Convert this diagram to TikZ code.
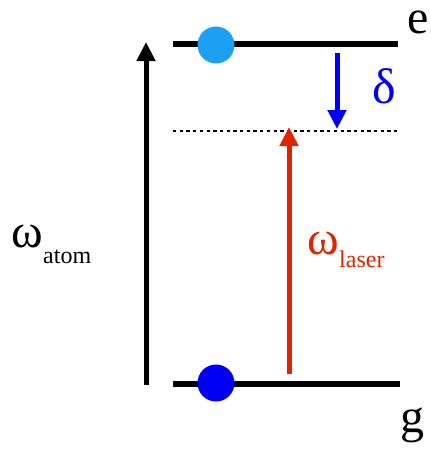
\documentclass[tikz,border=0pt]{standalone}
\usepackage{fontspec}
\setmainfont{Liberation Serif}
\usetikzlibrary{arrows.meta}
\definecolor{dotcyan}{RGB}{28,160,242}
\definecolor{dotblue}{RGB}{0,0,245}
\definecolor{laserred}{RGB}{222,36,0}
\begin{document}
\begin{tikzpicture}[x=1pt, y=-1pt,
  level/.style={line width=6pt},
  arr/.style={line width=5pt, -{Triangle[length=19pt, width=18pt]}},
  big/.style={font=\fontsize{48}{48}\selectfont, inner sep=0pt},
  sub/.style={font=\fontsize{24}{24}\selectfont, inner sep=0pt}]
\useasboundingbox (0,0) rectangle (431,451);
% energy levels
\coordinate (eL) at (173,44);  \coordinate (eR) at (398,44);
\coordinate (gL) at (173,384); \coordinate (gR) at (400,384);
\coordinate (vL) at (173,131); \coordinate (vR) at (400,131);
\draw[level] (eL) -- (eR);
\draw[level] (gL) -- (gR);
% virtual level reached by the laser
\draw[line width=2.6pt, dash pattern=on 3.3pt off 3.4pt] (vL) -- (vR);
% populations
\fill[dotcyan] (216,45) circle (18.5pt);
\fill[dotblue] (216,383) circle (18.5pt);
% level labels
\node[big, anchor=base west, text height=24pt] (e) at (407,33) {e};
\node[big, anchor=base west] (g) at (400,432) {g};
% atomic transition frequency
\coordinate (atomlo) at (146,385);
\coordinate (atomhi) at (146,42);
\draw[arr] (atomlo) -- (atomhi);
\node[big, anchor=base west] (watom) at (11,247) {ω};
\node[sub, anchor=base west] (atom) at (watom.base east) [yshift=-16pt] {atom};
% laser frequency
\coordinate (laserlo) at (289,374);
\coordinate (laserhi) at (289,127);
\draw[arr, laserred] (laserlo) -- (laserhi);
\node[big, anchor=base west, laserred] (wlaser) at (307,254) {ω};
\node[sub, anchor=base west, laserred] (laser) at (wlaser.base east) [yshift=-13pt] {laser};
% detuning
\coordinate (dethi) at (337,53);
\coordinate (detlo) at (337,129);
\draw[arr, dotblue] (dethi) -- (detlo);
\node[big, anchor=base west, dotblue, font=\fontsize{50}{50}\selectfont] (delta) at (372,103) {δ};
\end{tikzpicture}
\end{document}
